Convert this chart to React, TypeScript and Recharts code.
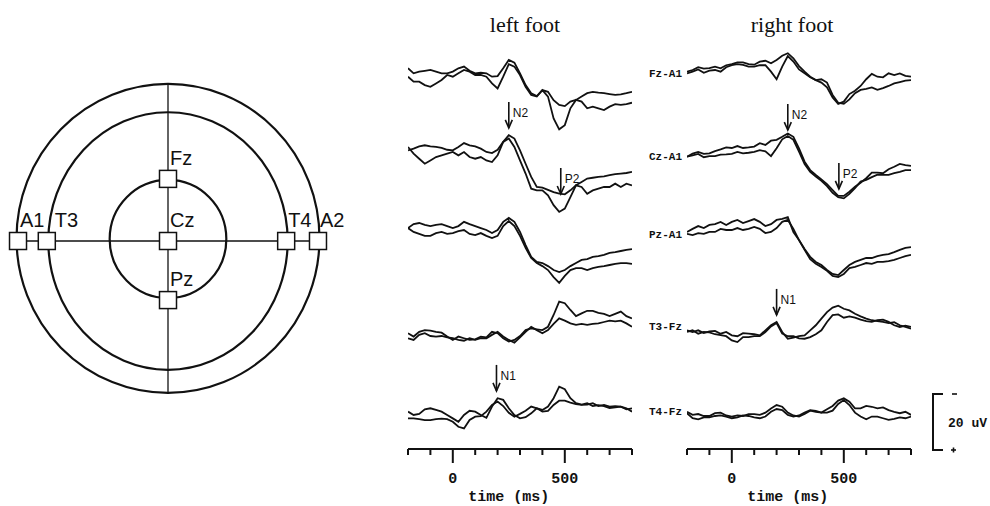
import React from "react";
import {
  LineChart,
  Line,
  XAxis,
  YAxis,
  Label,
  ReferenceDot,
  ReferenceLine,
  ScatterChart,
  Scatter,
} from "recharts";

// sample times (ms) of the averaged traces
const TIME_MS = [
  -200, -175, -150, -125, -100, -75, -50, -25, 0, 25, 50, 75, 100, 125, 150, 175, 200, 225, 250, 275,
  300, 325, 350, 375, 400, 425, 450, 475, 500, 525, 550, 575, 600, 625, 650, 675, 700, 725, 750, 775, 800,
];
const AXIS_TICKS = [-200, -100, 0, 100, 200, 300, 400, 500, 600, 700, 800];
const LABELLED_TICKS = [0, 500];
const TRACE_NAMES = ["Fz-A1", "Cz-A1", "Pz-A1", "T3-Fz", "T4-Fz"];

// amplitudes in uV (negative plotted up), two overlaid averages per derivation
const LEFT_FZ_1 = [-2.4, -0.6, -1.2, -1.5, -1.8, -1.2, -0.6, -0.6, -1.2, -2.4, -3.0, -1.5, -0.6, -0.8, -0.6, 0.6, 0.4, -2.4, -5.4, -4.4, -0.6, 3.6, 6.5, 7.5, 5.4, 6.0, 9.0, 10.7, 11.1, 9.5, 8.9, 7.7, 6.5, 6.0, 6.3, 6.5, 6.8, 7.1, 6.9, 6.5, 6.0];
const LEFT_FZ_2 = [0.6, 2.4, 2.4, 3.6, 4.2, 3.0, 1.8, 0, 0.6, -0.6, -1.8, -1.2, 0, 0, 0.6, 3.0, 4.8, 0.6, -3.9, -3.0, 0, 4.2, 7.1, 7.7, 5.4, 7.7, 15.5, 19.4, 17.9, 11.9, 8.9, 9.5, 11.9, 11.3, 11.9, 12.5, 11.3, 10.4, 10.7, 10.4, 9.9];
const LEFT_CZ_1 = [-0.6, -1.2, -2.0, -2.4, -2.0, -1.8, -1.5, -0.8, -0.6, -1.8, -3.2, -2.4, -2.0, -1.2, 0, 0.4, -0.8, -3.6, -6.0, -4.8, -0.6, 4.2, 8.9, 12.5, 12.7, 13.5, 14.3, 14.9, 15.1, 13.7, 11.9, 10.7, 9.5, 9.2, 8.9, 8.7, 8.3, 7.9, 7.7, 7.5, 7.1];
const LEFT_CZ_2 = [-1.8, 0.6, 2.4, 4.2, 3.0, 1.8, 1.2, 0.6, 0, 1.2, 0, 1.8, 2.4, 1.8, 3.0, 3.6, 1.2, -3.6, -4.8, -1.8, 3.0, 7.7, 13.1, 13.7, 13.7, 15.5, 19.0, 21.4, 20.2, 16.1, 11.9, 12.5, 14.9, 13.7, 13.1, 12.5, 12.5, 11.3, 12.5, 11.3, 11.9];
const LEFT_PZ_1 = [-0.7, -2.1, -2.5, -1.8, -1.4, -1.8, -2.1, -1.4, -0.7, -1.4, -2.9, -2.1, -1.4, -0.7, 0, 1.1, 0, -2.9, -4.3, -2.9, 0.7, 5.4, 9.6, 11.4, 11.8, 12.9, 14.3, 15.0, 14.3, 12.9, 11.8, 10.7, 10.4, 9.6, 9.3, 8.9, 8.2, 7.9, 7.5, 7.1, 6.8];
const LEFT_PZ_2 = [-0.7, 0.7, 1.4, 2.1, 2.1, 1.1, 0.7, 1.4, 1.1, 0.4, 0, 1.4, 1.8, 1.1, 2.1, 2.9, 2.1, -1.4, -3.2, -1.4, 2.1, 6.4, 10.0, 11.8, 12.9, 14.3, 16.8, 18.9, 16.4, 14.3, 13.6, 13.6, 14.3, 13.6, 13.2, 12.9, 12.5, 12.1, 11.8, 11.8, 12.1];
const LEFT_T3_1 = [-1.0, 0.2, -1.5, -2.1, -1.9, -1.5, -1.2, 0.2, 1.4, 0.2, 0.8, 1.4, 1.2, 0.2, 0.5, -1.5, -1.0, 0.8, 2.0, 1.4, 0, -2.1, -2.7, -2.4, -2.1, -3.3, -7.5, -12.3, -11.7, -9.3, -7.1, -8.1, -9.0, -9.0, -8.3, -7.9, -7.1, -7.9, -8.7, -7.1, -6.3];
const LEFT_T3_2 = [0.8, 1.4, -0.4, -1.0, 0, 0.2, 0, 0.5, 0.8, 1.4, 1.7, 0.8, 1.4, 0.8, 0.8, -0.4, -1.5, 0.2, 1.4, 2.4, 0.5, -1.5, -3.3, -2.1, -1.0, -2.1, -4.3, -6.3, -5.5, -4.5, -4.0, -4.3, -4.0, -4.3, -4.5, -5.0, -5.5, -5.2, -5.5, -4.5, -3.3];
const LEFT_T4_1 = [-1.2, 0, -0.4, -2.0, -2.4, -1.8, -1.2, 0, 1.2, 2.4, 0, -1.5, -1.2, 0, 1.0, -3.0, -6.0, -5.4, -2.4, 0, 1.2, 0.8, -0.6, -2.4, -1.8, -3.0, -6.0, -10.1, -9.2, -6.0, -4.2, -3.7, -4.2, -3.2, -3.5, -3.2, -2.5, -2.7, -3.0, -2.0, -2.4];
const LEFT_T4_2 = [1.2, 1.2, 1.5, 1.8, 1.8, 1.5, 1.3, 1.5, 2.4, 4.2, 4.8, 1.8, 0.6, 0.4, -1.2, -3.6, -4.8, -3.2, -0.8, 0.6, -0.4, -1.5, -3.0, -2.4, -1.2, -1.5, -3.6, -5.1, -5.1, -4.4, -3.9, -3.6, -3.7, -4.2, -3.2, -3.6, -3.0, -3.2, -3.0, -2.4, -1.2];

const RIGHT_FZ_1 = [0.6, 0, -1.0, -0.5, -0.7, -1.2, -0.6, -1.7, -2.1, -2.7, -2.7, -2.1, -1.9, -3.0, -3.3, -2.4, -3.6, -5.1, -6.0, -4.2, -1.4, 0.6, 2.4, 3.6, 4.5, 6.2, 9.8, 12.1, 11.3, 8.6, 7.4, 5.7, 3.3, 1.4, 2.4, 2.6, 1.2, 1.8, 1.2, 2.1, 2.4];
const RIGHT_FZ_2 = [1.2, 0.6, -0.2, 1.0, 0.2, 0, 0.6, -1.0, -1.7, -2.1, -1.8, -1.2, -1.2, -1.7, -1.7, 0.6, 3.3, -1.2, -5.0, -3.0, -0.2, 1.2, 2.6, 3.6, 3.3, 4.5, 8.9, 11.7, 12.1, 10.5, 8.3, 7.1, 6.7, 6.2, 7.1, 6.5, 5.7, 4.8, 4.3, 3.8, 3.6];
const RIGHT_CZ_1 = [0.6, -0.5, -1.1, -0.4, -0.6, -1.4, -2.0, -2.7, -2.5, -3.2, -2.5, -2.7, -3.0, -4.2, -3.6, -5.1, -5.4, -6.5, -7.7, -6.5, -2.4, 2.4, 5.4, 7.1, 8.7, 10.4, 12.5, 14.6, 14.6, 13.1, 11.3, 9.9, 8.3, 6.3, 6.3, 6.5, 5.1, 4.2, 3.2, 3.6, 3.9];
const RIGHT_CZ_2 = [0.6, 0.1, -0.4, 0.8, 0.4, 0.4, -0.1, -0.2, -0.4, -1.1, -0.6, -0.8, -1.1, -1.7, -1.3, 0.4, -2.4, -5.6, -6.8, -5.4, -1.2, 3.2, 6.0, 7.7, 9.2, 11.1, 13.5, 15.1, 15.5, 13.9, 11.8, 9.5, 8.9, 7.9, 7.0, 7.1, 7.1, 6.5, 6.0, 5.4, 5.4];
const RIGHT_PZ_1 = [0.7, -0.4, -1.4, -0.7, -1.8, -2.1, -2.9, -1.8, -2.9, -3.6, -2.5, -3.2, -3.9, -2.9, -1.4, -2.1, -3.6, -4.0, -4.6, 0.7, 3.6, 6.8, 9.6, 11.4, 12.5, 14.3, 15.7, 16.1, 14.3, 12.5, 11.4, 10.7, 10.0, 10.0, 9.3, 8.9, 8.6, 7.9, 7.1, 6.4, 6.1];
const RIGHT_PZ_2 = [1.4, 1.8, 1.1, 1.4, 0.7, 0.7, -0.4, 0, 0, -0.7, 0, -0.4, -1.1, -0.4, 1.1, 0.7, -0.7, -2.9, -3.6, -0.4, 3.6, 7.1, 10.4, 12.1, 13.2, 14.6, 16.4, 16.8, 15.7, 13.6, 13.2, 12.5, 11.8, 12.1, 11.4, 11.4, 11.1, 10.7, 10.0, 9.3, 8.9];
const RIGHT_T3_1 = [-0.6, 0, -0.6, 0.4, -0.2, -0.4, 0.6, 0, 1.2, 1.5, 0.4, 0.6, 0.8, 1.2, -0.6, -2.4, -3.6, 0, 2.4, 2.0, 1.5, 1.2, -0.6, -2.4, -4.8, -7.1, -8.7, -9.4, -8.3, -7.7, -6.5, -5.6, -4.8, -4.2, -3.9, -3.6, -3.2, -3.5, -2.4, -1.8, -1.2];
const RIGHT_T3_2 = [0, -0.6, 0.6, 0, 0.1, 0.8, 1.1, 1.5, 3.0, 3.6, 1.8, 1.8, 1.5, 1.5, 0, -2.0, -3.2, 0.6, 1.5, 1.5, 2.3, 2.4, 1.8, 0.8, -0.6, -3.6, -6.0, -6.3, -5.1, -5.6, -5.1, -4.4, -3.9, -3.6, -4.2, -4.4, -3.6, -2.4, -1.8, -2.3, -1.8];
const RIGHT_T4_1 = [-1.5, -0.4, -0.7, 0, 0, -1.0, -1.2, -0.2, 0.2, -0.2, 0, -0.7, -0.7, -0.4, -1.2, -2.7, -3.9, -3.3, -1.2, -0.2, 0.2, -0.7, -1.9, -1.5, -1.2, -2.4, -3.6, -5.5, -6.3, -5.1, -2.7, -2.7, -3.6, -3.3, -2.7, -3.1, -2.1, -1.5, -1.0, -1.5, -0.4];
const RIGHT_T4_2 = [-1.0, 0.8, 1.2, 0.5, 0.5, 0, -0.2, 0.2, 0.8, 0.5, -0.2, 0, 0.5, 0.8, 0.2, -1.5, -2.5, -2.1, -0.4, 0.2, -0.2, -1.2, -2.1, -1.8, -1.2, -1.2, -1.9, -4.3, -5.7, -3.9, -1.2, 0.2, 1.2, 0.2, 0.2, 0.8, 1.4, 1.0, 0.5, 0.8, 0.2];

// component markers: trace index, label, latency (ms), arrow tip (uV)
const LEFT_MARKS = [
  { trace: 1, label: "N2", t: 250, v: -8.6 },
  { trace: 1, label: "P2", t: 482, v: 15.0 },
  { trace: 4, label: "N1", t: 195, v: -8.6 },
];
const RIGHT_MARKS = [
  { trace: 1, label: "N2", t: 250, v: -8.9 },
  { trace: 1, label: "P2", t: 478, v: 12.1 },
  { trace: 3, label: "N1", t: 200, v: -6.1 },
];

// electrode montage (units of the outer head radius)
const ELECTRODES = [
  { name: "Fz", x: 0, y: 0.41 },
  { name: "Cz", x: 0, y: 0 },
  { name: "Pz", x: 0, y: -0.39 },
  { name: "A1", x: -0.99, y: 0 },
  { name: "T3", x: -0.8, y: 0 },
  { name: "T4", x: 0.78, y: 0 },
  { name: "A2", x: 0.99, y: 0 },
];
const RINGS = [
  { rx: 1.0, ry: 1.02, cy: 0.017 },
  { rx: 0.79, ry: 0.85, cy: 0 },
  { rx: 0.385, ry: 0.39, cy: 0.013 },
];

const ink = "#111";
const mono = "'Liberation Mono', 'DejaVu Sans Mono', monospace";
const sans = "'Liberation Sans', Arial, sans-serif";
const PLOT_TOP = 40;
const PLOT_BOTTOM = 449;
const PX_PER_UV = 2.8;
const LEFT_BASE = [75, 152, 230, 336, 415];
const RIGHT_BASE = [70, 155, 230, 332, 416];
const HEAD_PX = 151.5;

function AxisTick(props: any) {
  const { x, y, payload } = props;
  const major = LABELLED_TICKS.includes(payload.value);
  return (
    <g>
      <line x1={x} x2={x} y1={y} y2={y + (major ? 14 : 6)} stroke={ink} strokeWidth={2} />
      {major && (
        <text x={x} y={y + 34} textAnchor="middle" fontFamily={mono} fontSize={15} fontWeight="bold" fill={ink}>
          {payload.value}
        </text>
      )}
    </g>
  );
}

function TimeLabel(props: any) {
  const vb = props.viewBox;
  if (!vb) return null;
  return (
    <text x={vb.x + vb.width * 0.45} y={vb.y + 52} textAnchor="middle" fontFamily={mono} fontSize={15} fontWeight="bold" fill={ink}>
      time (ms)
    </text>
  );
}

function Arrow({ cx, cy, label }: { cx: number; cy: number; label: string }) {
  return (
    <g>
      <line x1={cx} x2={cx} y1={cy - 26} y2={cy} stroke={ink} strokeWidth={1.6} />
      <polyline points={`${cx - 3.5},${cy - 8} ${cx},${cy} ${cx + 3.5},${cy - 8}`} fill="none" stroke={ink} strokeWidth={1.6} />
      <text x={cx + 4} y={cy - 11} fontFamily={sans} fontSize={12} fill={ink}>
        {label}
      </text>
    </g>
  );
}

function EegPanel({ left, traces, bases, marks }: { left: number; traces: number[][][]; bases: number[]; marks: typeof LEFT_MARKS }) {
  const rows = TIME_MS.map((t, i) => {
    const r: Record<string, number> = { t };
    traces.forEach((tr, j) => {
      r[`a${j}`] = tr[0][i];
      r[`b${j}`] = tr[1][i];
    });
    return r;
  });
  return (
    <div style={{ position: "absolute", left, top: 0 }}>
      <LineChart width={260} height={506} data={rows} margin={{ top: PLOT_TOP, right: 18, bottom: 0, left: 18 }}>
        <XAxis
          dataKey="t"
          type="number"
          domain={[-200, 800]}
          ticks={AXIS_TICKS}
          interval={0}
          tickSize={0}
          tickMargin={0}
          tickLine={false}
          tick={(p: any) => <AxisTick {...p} />}
          axisLine={{ stroke: ink, strokeWidth: 2 }}
          height={506 - PLOT_BOTTOM}
          allowDataOverflow
        >
          <Label content={(p: any) => <TimeLabel {...p} />} />
        </XAxis>
        {bases.map((b, j) => (
          <YAxis
            key={j}
            yAxisId={j}
            hide
            reversed
            type="number"
            allowDataOverflow
            domain={[-(b - PLOT_TOP) / PX_PER_UV, (PLOT_BOTTOM - b) / PX_PER_UV]}
          />
        ))}
        {traces.map((_, j) => [
          <Line key={`a${j}`} yAxisId={j} dataKey={`a${j}`} type="linear" stroke={ink} strokeWidth={1.8} dot={false} isAnimationActive={false} />,
          <Line key={`b${j}`} yAxisId={j} dataKey={`b${j}`} type="linear" stroke={ink} strokeWidth={1.8} dot={false} isAnimationActive={false} />,
        ])}
        {marks.map((m) => (
          <ReferenceDot
            key={`${m.label}${m.t}`}
            yAxisId={m.trace}
            x={m.t}
            y={m.v}
            r={0}
            shape={(p: any) => <Arrow cx={p.cx} cy={p.cy} label={m.label} />}
          />
        ))}
      </LineChart>
    </div>
  );
}

function ElectrodeShape(props: any) {
  const { cx, cy } = props;
  const name = props.payload?.name ?? props.name;
  const dx = name === "T3" ? 8 : 2;
  return (
    <g>
      <rect x={cx - 8.5} y={cy - 8.5} width={17} height={17} fill="#fff" stroke={ink} strokeWidth={1.5} />
      <text x={cx + dx} y={cy - 14} fontFamily={sans} fontSize={20} fill={ink}>
        {name}
      </text>
    </g>
  );
}

function HeadMap() {
  return (
    <div style={{ position: "absolute", left: 0, top: 0 }}>
      <ScatterChart width={360} height={482} margin={{ top: 0, right: 0, bottom: 0, left: 0 }}>
        <XAxis dataKey="x" type="number" hide domain={[-168 / HEAD_PX, 192 / HEAD_PX]} />
        <YAxis dataKey="y" type="number" hide domain={[-241 / HEAD_PX, 241 / HEAD_PX]} />
        {RINGS.map((ring, i) => (
          <ReferenceDot
            key={i}
            x={0}
            y={ring.cy}
            r={0}
            shape={(p: any) => (
              <ellipse cx={p.cx} cy={p.cy} rx={ring.rx * HEAD_PX} ry={ring.ry * HEAD_PX} fill="none" stroke={ink} strokeWidth={2.2} />
            )}
          />
        ))}
        <ReferenceLine segment={[{ x: -0.99, y: 0 }, { x: 0.99, y: 0 }]} stroke={ink} strokeWidth={1.3} />
        <ReferenceLine segment={[{ x: 0, y: 1.037 }, { x: 0, y: -1.003 }]} stroke={ink} strokeWidth={1.3} />
        <Scatter data={ELECTRODES} shape={(p: any) => <ElectrodeShape {...p} />} isAnimationActive={false} />
      </ScatterChart>
    </div>
  );
}

export default function App() {
  const labelY = [77, 160, 238, 330, 415];
  return (
    <div style={{ position: "absolute", left: 0, top: 0, width: 990, height: 506, background: "#fff", overflow: "hidden" }}>
      <HeadMap />
      <EegPanel
        left={390}
        traces={[
          [LEFT_FZ_1, LEFT_FZ_2],
          [LEFT_CZ_1, LEFT_CZ_2],
          [LEFT_PZ_1, LEFT_PZ_2],
          [LEFT_T3_1, LEFT_T3_2],
          [LEFT_T4_1, LEFT_T4_2],
        ]}
        bases={LEFT_BASE}
        marks={LEFT_MARKS}
      />
      <EegPanel
        left={669}
        traces={[
          [RIGHT_FZ_1, RIGHT_FZ_2],
          [RIGHT_CZ_1, RIGHT_CZ_2],
          [RIGHT_PZ_1, RIGHT_PZ_2],
          [RIGHT_T3_1, RIGHT_T3_2],
          [RIGHT_T4_1, RIGHT_T4_2],
        ]}
        bases={RIGHT_BASE}
        marks={RIGHT_MARKS}
      />
      <svg width={990} height={506} style={{ position: "absolute", left: 0, top: 0, pointerEvents: "none" }}>
        <text x={525} y={32} textAnchor="middle" fontFamily="'Liberation Serif', 'Times New Roman', serif" fontSize={22} fill={ink}>
          left foot
        </text>
        <text x={792} y={32} textAnchor="middle" fontFamily="'Liberation Serif', 'Times New Roman', serif" fontSize={22} fill={ink}>
          right foot
        </text>
        {TRACE_NAMES.map((n, i) => (
          <text key={n} x={682} y={labelY[i]} textAnchor="end" fontFamily={mono} fontSize={11} fontWeight="bold" fill={ink}>
            {n}
          </text>
        ))}
        <path d="M943 394 H933 V450 H943" fill="none" stroke={ink} strokeWidth={2} />
        <line x1={952} x2={957} y1={394} y2={394} stroke={ink} strokeWidth={1.6} />
        <line x1={951} x2={956} y1={450} y2={450} stroke={ink} strokeWidth={1.6} />
        <line x1={953.5} x2={953.5} y1={447.5} y2={452.5} stroke={ink} strokeWidth={1.6} />
        <text x={948} y={427} fontFamily={mono} fontSize={13} fontWeight="bold" fill={ink}>
          20 uV
        </text>
      </svg>
    </div>
  );
}
